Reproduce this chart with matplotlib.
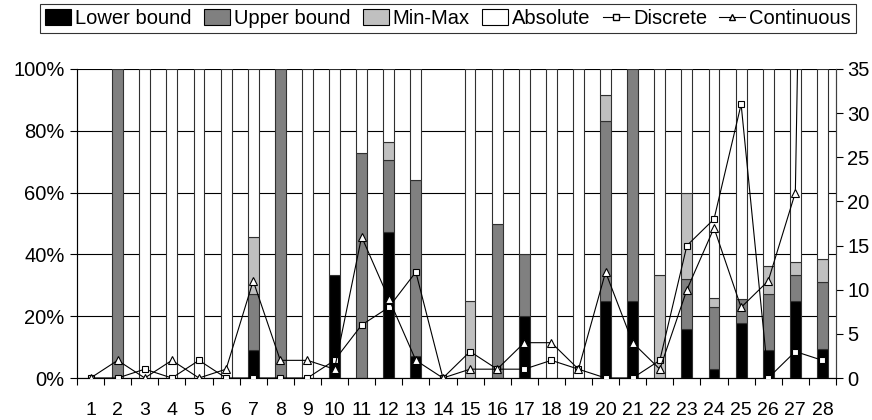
import matplotlib
matplotlib.use("Agg")
import matplotlib.pyplot as plt
import numpy as np
from matplotlib.patches import Patch
from matplotlib.lines import Line2D

plt.rcParams['font.family'] = ['Liberation Sans', 'DejaVu Sans']

categories = [str(i) for i in range(1, 29)]

# stacked percentages (segment heights)
lower_bound = [0, 0, 0, 0, 0, 0, 9.1, 0, 0, 33.3, 0, 47.1, 7.1, 0, 0, 0, 20.0, 0, 0,
               25.0, 25.0, 0, 16.0, 2.9, 17.9, 9.1, 25.0, 9.5]
upper_bound = [0, 100, 0, 0, 0, 0, 18.2, 100, 0, 0, 72.7, 23.5, 57.1, 0, 0, 50.0, 20.0, 0, 0,
               58.3, 75.0, 0, 16.0, 20.0, 7.7, 18.2, 8.3, 21.5]
min_max = [0, 0, 0, 0, 0, 0, 18.2, 0, 0, 0, 0, 5.9, 0, 0, 25.0, 0, 0, 0, 0,
           8.3, 0, 33.3, 28.0, 2.9, 0, 9.1, 4.2, 7.5]
absolute = [0, 0, 100, 100, 100, 100, 54.5, 0, 100, 66.7, 27.3, 23.5, 35.7, 0, 75.0, 50.0, 60.0,
            100, 100, 8.3, 0, 66.7, 40.0, 74.3, 74.4, 63.6, 62.5, 61.5]

# counts (right axis)
discrete = [0, 0, 1, 0, 2, 0, 0, 0, 0, 2, 6, 8, 12, 0, 3, 1, 1, 2, 1, 0, 0, 2, 15, 18, 31, 0, 3, 2]
continuous = [0, 2, 0, 2, 0, 1, 11, 2, 2, 1, 16, 9, 2, 0, 1, 1, 4, 4, 1, 12, 4, 1, 10, 17, 8, 11, 21, 198]

left_ticks = [0, 20, 40, 60, 80, 100]
left_labels = ["0%", "20%", "40%", "60%", "80%", "100%"]
right_ticks = [0, 5, 10, 15, 20, 25, 30, 35]

fig = plt.figure(figsize=(8.72, 4.2), dpi=100)
ax = fig.add_axes([77/872, 1-378/420, (836-77)/872, (378-69)/420])
x = np.arange(1, len(categories) + 1)
w = 0.4
edge = '#303030'
lw = 0.8

b = np.zeros(len(x))
for vals, col in [(lower_bound, '#000000'), (upper_bound, '#808080'),
                  (min_max, '#C0C0C0'), (absolute, '#FFFFFF')]:
    v = np.array(vals, dtype=float)
    mask = v > 0
    ax.bar(x[mask], v[mask], width=w, bottom=b[mask], color=col, edgecolor=edge,
           linewidth=lw, zorder=2)
    b += v

ax.set_xlim(0.5, len(x) + 0.5)
ax.set_ylim(0, 100)
ax.set_yticks(left_ticks)
ax.set_yticklabels(left_labels, fontsize=14.5)
ax.grid(axis='y', color='black', linewidth=0.8, zorder=0)
ax.set_axisbelow(True)
ax.set_xticks(x)
ax.set_xticklabels(categories, fontsize=14)
ax.set_xticks(np.arange(0.5, len(x) + 1), minor=True)
ax.tick_params(axis='x', which='major', length=0, pad=17)
ax.tick_params(axis='x', which='minor', length=5, width=0.8, direction='out')
ax.tick_params(axis='y', length=5, width=0.8, direction='out', pad=4)
ax.spines['top'].set_visible(False)
for s in ['left', 'bottom', 'right']:
    ax.spines[s].set_linewidth(0.8)
    ax.spines[s].set_color('#404040')

ax2 = ax.twinx()
ax2.set_ylim(0, 35)
ax2.set_yticks(right_ticks)
ax2.set_yticklabels([str(t) for t in right_ticks], fontsize=14.5)
ax2.tick_params(axis='y', length=5, width=0.8, direction='out', pad=3)
ax2.spines['top'].set_visible(False)
ax2.spines['right'].set_linewidth(0.8)
ax2.spines['right'].set_color('#404040')
ax2.plot(x, discrete, color='black', linewidth=0.8, marker='s', markersize=5,
         markerfacecolor='white', markeredgecolor='black', markeredgewidth=0.8, zorder=3)
ax2.plot(x, continuous, color='black', linewidth=0.8, marker='^', markersize=6,
         markerfacecolor='white', markeredgecolor='black', markeredgewidth=0.8, zorder=4)

handles = [
    Patch(facecolor='#000000', edgecolor='black', linewidth=0.8, label='Lower bound'),
    Patch(facecolor='#808080', edgecolor='black', linewidth=0.8, label='Upper bound'),
    Patch(facecolor='#C0C0C0', edgecolor='black', linewidth=0.8, label='Min-Max'),
    Patch(facecolor='#FFFFFF', edgecolor='black', linewidth=0.8, label='Absolute'),
    Line2D([0], [0], color='black', linewidth=0.8, marker='s', markersize=4,
           markerfacecolor='white', markeredgecolor='black', label='Discrete'),
    Line2D([0], [0], color='black', linewidth=0.8, marker='^', markersize=5,
           markerfacecolor='white', markeredgecolor='black', label='Continuous'),
]
leg = fig.legend(handles=handles, loc='center', bbox_to_anchor=(448/872, 1-18.5/420),
                 ncol=6, fontsize=14.5, frameon=True, fancybox=False, edgecolor='black',
                 handlelength=1.3, handleheight=0.8, handletextpad=0.2, columnspacing=0.6,
                 borderpad=0.25, borderaxespad=0)
leg.get_frame().set_linewidth(0.8)

fig.savefig("out.png", dpi=100)
